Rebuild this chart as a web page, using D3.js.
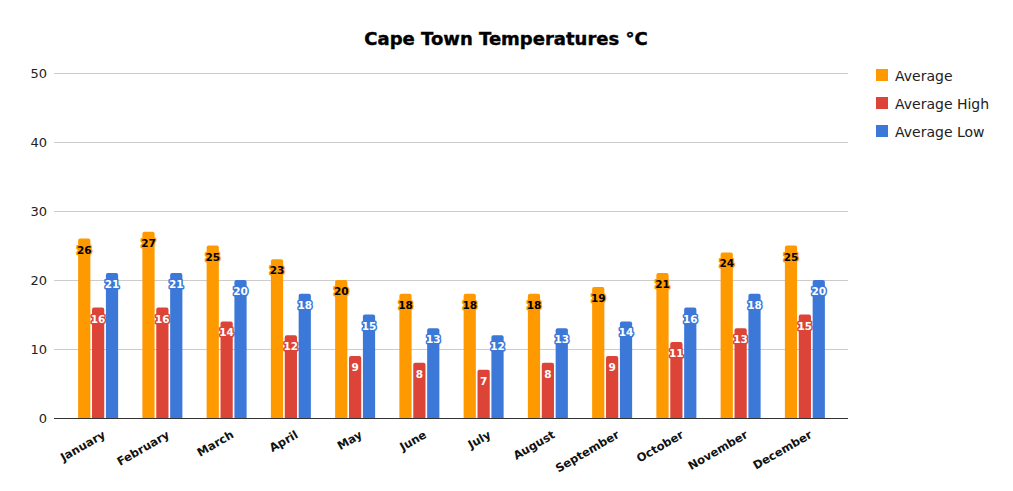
<!DOCTYPE html>
<html>
<head>
<meta charset="utf-8">
<script src="https://cdn.jsdelivr.net/npm/d3@7"></script>
<style>
  body { margin: 0; background: #fff; }
  svg { display: block; }
</style>
</head>
<body>
<div class="chart"></div>
<script>
// data
var months = ["January", "February", "March", "April", "May", "June",
              "July", "August", "September", "October", "November", "December"];
var seriesNames = ["Average", "Average High", "Average Low"];
var average = [26, 27, 25, 23, 20, 18, 18, 18, 19, 21, 24, 25];
var averageHigh = [16, 16, 14, 12, 9, 8, 7, 8, 9, 11, 13, 15];
var averageLow = [21, 21, 20, 18, 15, 13, 12, 13, 14, 16, 18, 20];
var yTicks = [0, 10, 20, 30, 40, 50];

var colors = ["#ff9900", "#dc4438", "#3c78d8"];
var labelColors = ["#000", "#fff", "#fff"];

var width = 1013, height = 491;

var svg = d3.select(".chart")
    .append("svg")
    .attr("width", width)
    .attr("height", height);

// title
svg.append("text")
    .attr("x", 506)
    .attr("y", 45)
    .attr("text-anchor", "middle")
    .style("font-family", "DejaVu Sans")
    .style("font-weight", "bold")
    .style("font-size", "18px")
    .style("stroke", "#000")
    .style("stroke-width", "0.4px")
    .text("Cape Town Temperatures °C");

// scales
var x = d3.scaleBand()
    .domain(months)
    .range([66, 837]);
var x1 = d3.scaleBand()
    .domain(seriesNames)
    .range([x.bandwidth() / 2 - 20, x.bandwidth() / 2 + 20])
    .paddingInner(0.12);
var y = d3.scaleLinear()
    .domain([0, 50])
    .range([418, 73]);

// gridlines + y labels
svg.append("g")
    .selectAll("line")
    .data(yTicks.slice(1))
    .enter()
    .append("line")
    .attr("x1", 54).attr("x2", 848)
    .attr("y1", function (d) { return y(d) + 0.5; })
    .attr("y2", function (d) { return y(d) + 0.5; })
    .style("stroke", "#cccccc");

svg.append("g")
    .selectAll("text")
    .data(yTicks)
    .enter()
    .append("text")
    .attr("x", 47)
    .attr("y", function (d) { return y(d) + 5; })
    .attr("text-anchor", "end")
    .style("font-family", "DejaVu Sans")
    .style("font-size", "13px")
    .style("fill", "#222")
    .text(function (d) { return d; });

// bars
var table = months.map(function (m, i) {
    return { month: m, values: [average[i], averageHigh[i], averageLow[i]] };
});

var groups = svg.append("g")
    .selectAll("g")
    .data(table)
    .enter()
    .append("g")
    .attr("transform", function (d) { return "translate(" + x(d.month) + ",0)"; });

var cells = groups.selectAll("g")
    .data(function (d) {
        return d.values.map(function (v, k) { return { key: seriesNames[k], k: k, value: v }; });
    })
    .enter()
    .append("g");

cells.append("path")
    .style("fill", function (d) { return colors[d.k]; })
    .attr("d", function (d) {
        var x0 = x1(d.key), w = x1.bandwidth(), top = y(d.value), bot = y(0), r = 2;
        return "M" + x0 + "," + bot + "V" + (top + r) +
            "Q" + x0 + "," + top + " " + (x0 + r) + "," + top +
            "H" + (x0 + w - r) +
            "Q" + (x0 + w) + "," + top + " " + (x0 + w) + "," + (top + r) +
            "V" + bot + "Z";
    });

cells.append("text")
    .attr("x", function (d) { return x1(d.key) + x1.bandwidth() / 2; })
    .attr("y", function (d) { return y(d.value) + 15; })
    .attr("text-anchor", "middle")
    .style("font-family", "DejaVu Sans")
    .style("font-weight", "bold")
    .style("font-size", "10.5px")
    .style("paint-order", "stroke")
    .style("stroke", function (d) { return colors[d.k]; })
    .style("stroke-width", "3px")
    .style("stroke-linejoin", "round")
    .style("fill", function (d) { return labelColors[d.k]; })
    .text(function (d) { return d.value; });

// baseline
svg.append("line")
    .attr("x1", 54).attr("x2", 848)
    .attr("y1", 418.5).attr("y2", 418.5)
    .style("stroke", "#333");

// x labels
svg.append("g")
    .selectAll("text")
    .data(months)
    .enter()
    .append("text")
    .attr("transform", function (d) {
        return "translate(" + (x(d) + x.bandwidth() / 2 + 8) + ",437) rotate(-30)";
    })
    .attr("text-anchor", "end")
    .style("font-family", "DejaVu Sans")
    .style("font-weight", "bold")
    .style("font-size", "11.5px")
    .style("fill", "#111")
    .text(function (d) { return d; });

// legend
var legend = svg.append("g")
    .selectAll("g")
    .data(seriesNames)
    .enter()
    .append("g")
    .attr("transform", function (d, i) { return "translate(876," + (69 + i * 28) + ")"; });
legend.append("rect")
    .attr("width", 12).attr("height", 12)
    .style("fill", function (d, i) { return colors[i]; });
legend.append("text")
    .attr("x", 19)
    .attr("y", 12)
    .style("font-family", "DejaVu Sans")
    .style("font-size", "14px")
    .style("fill", "#222")
    .text(function (d) { return d; });
</script>
</body>
</html>
